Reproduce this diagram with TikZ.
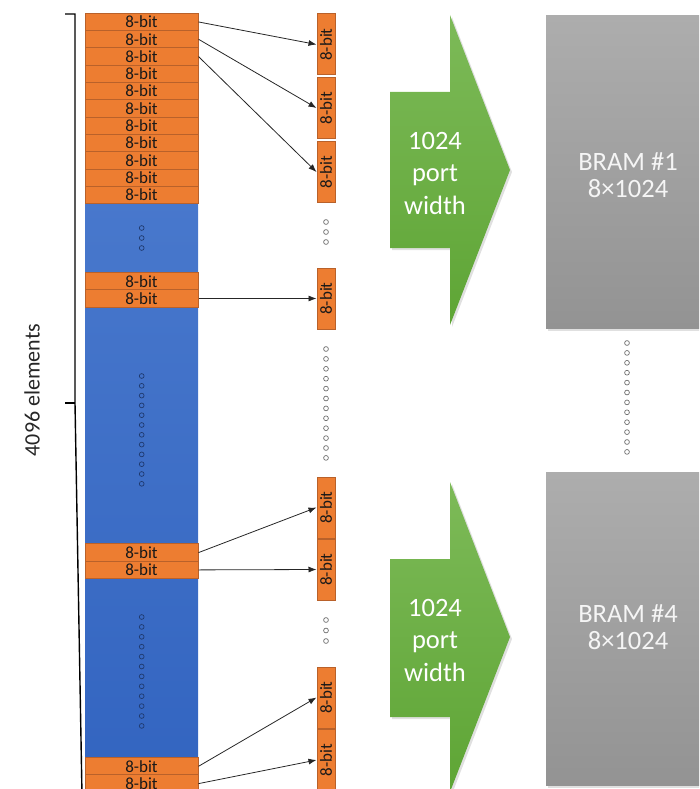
\documentclass[tikz,border=0pt]{standalone}
\usepackage{fontspec}
\setmainfont{Carlito}
\usetikzlibrary{arrows.meta}
\definecolor{orng}{HTML}{ED7D31}
\definecolor{orngd}{HTML}{B9612A}
\definecolor{blueT}{HTML}{4F7ED0}
\definecolor{blueB}{HTML}{3264C0}
\definecolor{greenT}{HTML}{7DBA58}
\definecolor{greenB}{HTML}{5EA535}
\definecolor{grayT}{HTML}{ADADAD}
\definecolor{grayB}{HTML}{939393}
\definecolor{dotblue}{HTML}{1F3A70}
\definecolor{dotgray}{HTML}{707070}
\tikzset{
  rowbox/.style={draw=orngd, fill=orng, line width=1pt, minimum width=113pt, minimum height=17.3pt, inner sep=0pt, font=\fontsize{17}{17}\selectfont, text=black!90},
  vbox/.style={draw=orngd, fill=orng, line width=1pt, minimum width=18pt, minimum height=61pt, inner sep=0pt},
  vtext/.style={rotate=90, inner sep=0pt, font=\fontsize{17}{17}\selectfont, text=black!90},
  link/.style={draw=black!85, line width=0.8pt, -{Latex[length=8pt,width=6pt]}},
  bdot/.style={draw=dotblue, line width=0.7pt},
  gdot/.style={draw=dotgray, line width=0.7pt},
  bigtext/.style={align=center, text=white, font=\fontsize{26.5}{32.5}\selectfont},
  bramtext/.style={align=center, text=white!96!black, font=\fontsize{26.5}{27}\selectfont},
  brk/.style={line width=1.4pt, draw=black},
  shadowfill/.style={fill=black, opacity=0.12}
}
\begin{document}
\begin{tikzpicture}[x=1pt,y=-1pt]
\useasboundingbox (0,0) rectangle (699,789);
\clip (0,0) rectangle (699,789);

% blue column
\node[top color=blueT, bottom color=blueB, minimum width=113pt, minimum height=790pt, inner sep=0pt, anchor=north west] (col) at (85,13) {};

% top rows
\foreach \i in {1,...,11}{
  \node[rowbox] (r\i) at (141.5, {13.3+17.3*(\i-0.5)}) {8-bit};
}
% middle rows
\node[rowbox] (m1) at (141.5, 281.3) {8-bit};
\node[rowbox] (m2) at (141.5, 298.5) {8-bit};
% third rows
\node[rowbox] (t1) at (141.5, 552.6) {8-bit};
\node[rowbox] (t2) at (141.5, 569.9) {8-bit};
% bottom rows
\node[rowbox] (u1) at (141.5, 766.3) {8-bit};
\node[rowbox] (u2) at (141.5, 783.6) {8-bit};

% dots in blue column
\foreach \y in {228,238,248} \draw[bdot] (141.7,\y) circle (2.4pt);
\foreach \k in {0,...,11} \draw[bdot] (141.7,{376+9.8*\k}) circle (2.4pt);
\foreach \k in {0,...,11} \draw[bdot] (141.7,{617+9.9*\k}) circle (2.4pt);

% right column boxes
\foreach \n/\y in {1/44.5, 2/108, 3/172, 4/298.5, 5/507.5, 6/569.5, 7/697.5, 8/760}{
  \node[vbox] (b\n) at (326,\y) {};
  \node[vtext] (b\n t) at (b\n) {8-bit};
}
% dots in right column
\foreach \y in {222,232,242} \draw[gdot] (326,\y) circle (2.4pt);
\foreach \k in {0,...,11} \draw[gdot] (326,{349+9.9*\k}) circle (2.4pt);
\foreach \y in {620,630.5,641} \draw[gdot] (326,\y) circle (2.4pt);

% connectors
\draw[link] (r1.east) -- (b1.west);
\draw[link] (r2.east) -- (b2.west);
\draw[link] (r3.east) -- (b3.west);
\draw[link] (m2.east) -- (b4.west);
\draw[link] (t1.east) -- (b5.west);
\draw[link] (t2.east) -- (b6.west);
\draw[link] (u1.east) -- (b7.west);
\draw[link] (u2.east) -- (b8.west);

% bracket
\coordinate (bt) at (75,14);
\coordinate (btl) at (65,14);
\coordinate (bm) at (75,403);
\coordinate (bml) at (65,403);
\coordinate (bb) at (82,795);
\draw[brk] (btl) -- (bt) -- (bm) -- (bb);
\draw[brk] (bml) -- (bm);
\node[rotate=90, font=\fontsize{22}{22}\selectfont, text=black!85] (lbl) at (32,390) {4096 elements};

% green arrows (shadows, then bodies)
\fill[shadowfill] (392,94) -- (452,94) -- (452,17) -- (512,172) -- (452,327) -- (452,250) -- (392,250) -- cycle;
\fill[shadowfill] (392,561) -- (452,561) -- (452,484) -- (512,639) -- (452,794) -- (452,719) -- (392,719) -- cycle;
\path[top color=greenT, bottom color=greenB] (390,92) -- (450,92) -- (450,15) -- (510,170) -- (450,325) -- (450,248) -- (390,248) -- cycle;
\path[top color=greenT, bottom color=greenB] (390,559) -- (450,559) -- (450,482) -- (510,637) -- (450,792) -- (450,717) -- (390,717) -- cycle;
\node[bigtext] (g1t) at (435,173) {1024\\port\\width};
\node[bigtext] (g4t) at (435,640) {1024\\port\\width};

% BRAM boxes
\fill[shadowfill] (548,17) rectangle (712,331);
\fill[shadowfill] (548,474) rectangle (712,788);
\node[top color=grayT, bottom color=grayB, minimum width=164pt, minimum height=313pt, inner sep=0pt, anchor=north west] (bram1) at (546,15) {};
\node[top color=grayT, bottom color=grayB, minimum width=164pt, minimum height=313pt, inner sep=0pt, anchor=north west] (bram4) at (546,472) {};
\node[bramtext] (bram1t) at (628,175) {BRAM \#1\\8×1024};
\node[bramtext] (bram4t) at (628,627) {BRAM \#4\\8×1024};
\foreach \k in {0,...,11} \draw[gdot] (627,{343+9.9*\k}) circle (2.4pt);
\end{tikzpicture}
\end{document}
